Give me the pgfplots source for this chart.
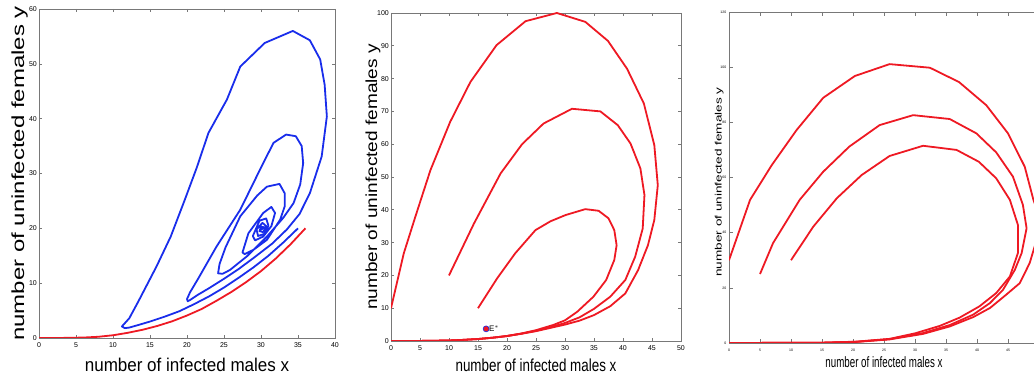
\documentclass[border=0pt]{standalone}
\usepackage{fontspec}
\setmainfont{Liberation Sans}
\usepackage{pgfplots}
\pgfplotsset{compat=1.18}
\definecolor{mblue}{RGB}{25,45,235}
\definecolor{mred}{RGB}{238,25,35}
\definecolor{axgray}{RGB}{120,120,120}
\pgfplotsset{
  mstyle/.style={
    scale only axis,
    axis line style={axgray, line width=0.8pt},
    tick style={axgray, line width=0.6pt},
    tick align=inside,
    major tick length=3pt,
    /pgf/number format/assume math mode=true,
    every axis plot/.append style={line width=1.8pt, no markers, line join=round},
    xticklabel style={font=\fontsize{7}{7}\selectfont, inner sep=1pt, yshift=-3pt},
    yticklabel style={font=\fontsize{7}{7}\selectfont, inner sep=1pt, xshift=-1pt},
  }
}
\begin{document}
\begin{tikzpicture}
\path[use as bounding box] (0,0) rectangle (1034pt,377pt);

% ---------------- Panel 1 ----------------
\begin{axis}[mstyle,
  at={(39pt,39pt)}, anchor=south west, width=296pt, height=329pt,
  xmin=0, xmax=40, ymin=0, ymax=60,
  xtick={0,5,...,40}, ytick={0,10,...,60},
  every axis x label/.style={at={(axis description cs:0.5,0)}, yshift=-34pt, anchor=base},
  every axis y label/.style={at={(axis description cs:0,0.5)}, xshift=-15pt, rotate=90, anchor=base},
  xlabel={\fontsize{18.5}{20}\selectfont\scalebox{0.92}[1]{number of infected males x}},
  ylabel={\fontsize{17.5}{20}\selectfont\scalebox{1.37}[1]{number of uninfected females y}},
]
\addplot[mred] coordinates {(0,0) (3,0.01) (6,0.08) (8,0.22) (10,0.5) (12,0.95) (14,1.5) (16,2.2) (18,3.05) (20,4.1) (22,5.3) (24,6.8) (26,8.4) (28,10.2) (30,12.2) (32,14.5) (34,17.1) (36,20.0)};
\addplot[mblue] coordinates {
(35,20) (33,17.4) (31,15.0) (29,12.9) (27,11.0) (25,9.2) (23,7.6) (21,6.2) (19,4.9) (17,3.9) (15,3.0) (13.5,2.4) (12.2,1.9) (11.6,1.8) (11.2,2.1)
(12.2,3.6) (13.4,6.6) (15.9,13.1) (17.8,18.5) (19.7,25.2) (21.3,31) (22.9,37.4) (25.4,43.5) (27.2,49.5) (30.5,53.8) (34.3,56) (36.6,54.3) (38,50.8) (38.6,46.2) (38.9,40.4) (38.2,33.1) (36.6,26.4) (35.2,22.6) (33.5,19.8) (31.5,17.2) (29,14.6) (27,12.6) (25,10.8) (23,9.1) (21.5,7.9) (20.5,7.0) (20.1,6.7) (20.0,7.1) (20.4,8.3)
(21.5,10.8) (24,16.7) (27.2,23.4) (30.3,31.9) (31.7,35.6) (33.4,37.1) (34.7,36.8) (35.5,35) (35.7,31.9) (35.3,28) (34.4,24.6) (33,21.9) (30.8,18.5) (28.1,14.9) (25.8,12.4) (24.8,11.7) (24.2,11.8) (24.4,13.5)
(25.2,16.5) (27.2,22.2) (29.5,26) (30.8,27.6) (32.5,28.1) (33.2,26.4) (33.2,24) (32.6,21.6) (30.8,17.9) (29,16.1) (27.8,15.3) (27.5,15.6) (28.3,19.1) (30.3,22.8) (31.4,23.9) (31.9,22.8) (31.4,20.4) (30.3,18.5) (29.2,17.8) (28.9,18.6) (29.8,21.4) (30.7,21.8) (31,20.5) (30.5,19) (29.6,18.6) (29.4,19.8) (30.2,21) (30.7,20.4) (30.3,19.3) (29.8,19.5) (30,20.3) (30.4,20.2) (30.1,19.8) (30.1,20)};
\end{axis}

% ---------------- Panel 2 ----------------
\begin{axis}[mstyle,
  at={(391pt,36pt)}, anchor=south west, width=290pt, height=328pt,
  xmin=0, xmax=50, ymin=0, ymax=100,
  xtick={0,5,...,50}, ytick={0,10,...,100},
  every axis x label/.style={at={(axis description cs:0.5,0)}, yshift=-31pt, anchor=base},
  every axis y label/.style={at={(axis description cs:0,0.5)}, xshift=-14pt, rotate=90, anchor=base},
  xlabel={\fontsize{17.4}{20}\selectfont\scalebox{0.77}[1]{number of infected males x}},
  ylabel={\fontsize{16}{20}\selectfont\scalebox{1.19}[1]{number of uninfected females y}},
]
\addplot[mred] coordinates {(0,10) (2.2,26.7) (4.2,37.9) (6.8,52.1) (10.2,66.8) (13.7,79) (18.2,90.2) (23.2,97.5) (28.6,100) (33.5,97.3) (37.4,91.5) (40.7,83) (43.6,72.4) (45.4,59.7) (46,47.5) (45.4,36.9) (44.3,29.2) (42.6,21.6) (40.4,14.5) (37.8,10.6) (35,7.9) (32.5,6.2) (30,5.0) (27.5,4.0) (25,3.0) (22.5,2.2) (20,1.5) (17.5,1.0) (15,0.6) (12,0.3) (10,0.15) (5,0.02) (0,0)};
\addplot[mred] coordinates {(10,20) (14.3,35.8) (18.9,51.1) (22.6,60) (26.3,66.3) (31.2,70.8) (36.1,70) (39.1,65.8) (41.3,60.2) (43,52.6) (43.7,44.5) (43.4,34.3) (42.1,25.7) (40.4,18.6) (37.8,13.5) (35,9.8) (32.5,7.2) (30,5.5) (27.5,4.2) (25,3.1) (22.5,2.25) (20,1.5) (17.5,1.0) (15,0.6) (12,0.3) (10,0.15) (5,0.02) (0,0)};
\addplot[mred] coordinates {(15,10) (18.3,19.1) (21.4,26.7) (24.9,33.8) (27.5,36.5) (30.1,38.4) (33.5,40.2) (35.8,39.7) (37.5,37.4) (38.5,33.8) (38.9,29.2) (38.5,24.7) (37.1,18.6) (34.9,13.5) (32.1,8.9) (30,6.3) (28,4.9) (25,3.3) (22.5,2.3) (20,1.55) (17.5,1.0) (15,0.6) (12,0.3) (10,0.15) (5,0.02) (0,0)};
\addplot[only marks, mark=*, mark size=3pt, mark options={fill=mred, draw=mblue, line width=0.6pt}] coordinates {(16.4,3.7)};
\node[anchor=west, font=\fontsize{8}{8}\selectfont, inner sep=0pt] at (axis cs:16.9,3.7) {E$^{*}$};
\end{axis}

% ---------------- Panel 3 ----------------
\begin{axis}[mstyle,
  at={(729pt,34pt)}, anchor=south west, width=310pt, height=331pt,
  xmin=0, xmax=50, ymin=0, ymax=120,
  xtick={0,5,...,50}, ytick={0,20,...,120},
  xticklabels={0,5,10,15,20,25,30,35,40,45,},
  major tick length=4pt,
  xticklabel style={font=\fontsize{3.5}{3.5}\selectfont, inner sep=0.5pt, yshift=-2pt},
  yticklabel style={font=\fontsize{3.5}{3.5}\selectfont, inner sep=0.5pt, xshift=-1pt},
  every axis x label/.style={at={(axis description cs:0.5,0)}, yshift=-25pt, anchor=base},
  every axis y label/.style={at={(axis description cs:0,0.5)}, xshift=-7.5pt, yshift=-4.5pt, rotate=90, anchor=base},
  xlabel={\fontsize{15}{18}\selectfont\scalebox{0.65}[1]{number of infected males x}},
  ylabel={\fontsize{9.3}{11}\selectfont\scalebox{1.46}[1]{number of uninfected females y}},
]
\addplot[mred] coordinates {(0,30) (3.4,51.9) (6.9,64.5) (10.9,77.2) (15.2,88.9) (20.3,96.8) (25.9,101.1) (32.4,99.8) (37.1,94.6) (41.5,86.2) (45,76) (47.7,63.9) (49.1,51.9) (50.2,45) (49.7,38) (48.5,29) (46.9,21.7) (44.7,17.5) (42.1,12.7) (39.4,9.4) (35.6,6.0) (31.3,3.3) (25.9,1.3) (20.6,0.4) (15,0.1) (0,0)};
\addplot[mred] coordinates {(5,25) (7.1,36.2) (11.4,51.9) (15.2,62.1) (19.4,71.2) (24.3,79) (29.7,82.6) (35.6,81.2) (39.9,76) (43.1,69.1) (45.8,60.3) (47.4,50.1) (48,41.6) (47.2,32.6) (46.1,26.5) (44.2,19.3) (42.1,14.5) (39.4,10.3) (35.6,6.5) (31.3,3.6) (25.9,1.4) (20.6,0.45) (15,0.1) (0,0)};
\addplot[mred] coordinates {(10,30) (13.6,42.2) (17.4,52.5) (21.4,60.9) (25.9,67.8) (31.3,71.5) (36.7,70) (40.3,65.7) (43.1,59.7) (45.3,51.9) (46.6,42.8) (46.6,32.6) (45.3,24.1) (43.1,18.1) (40.4,13.3) (37.2,9.2) (34,6.2) (30,3.5) (25.9,1.5) (20.6,0.5) (15,0.1) (0,0)};
\end{axis}
\end{tikzpicture}
\end{document}
